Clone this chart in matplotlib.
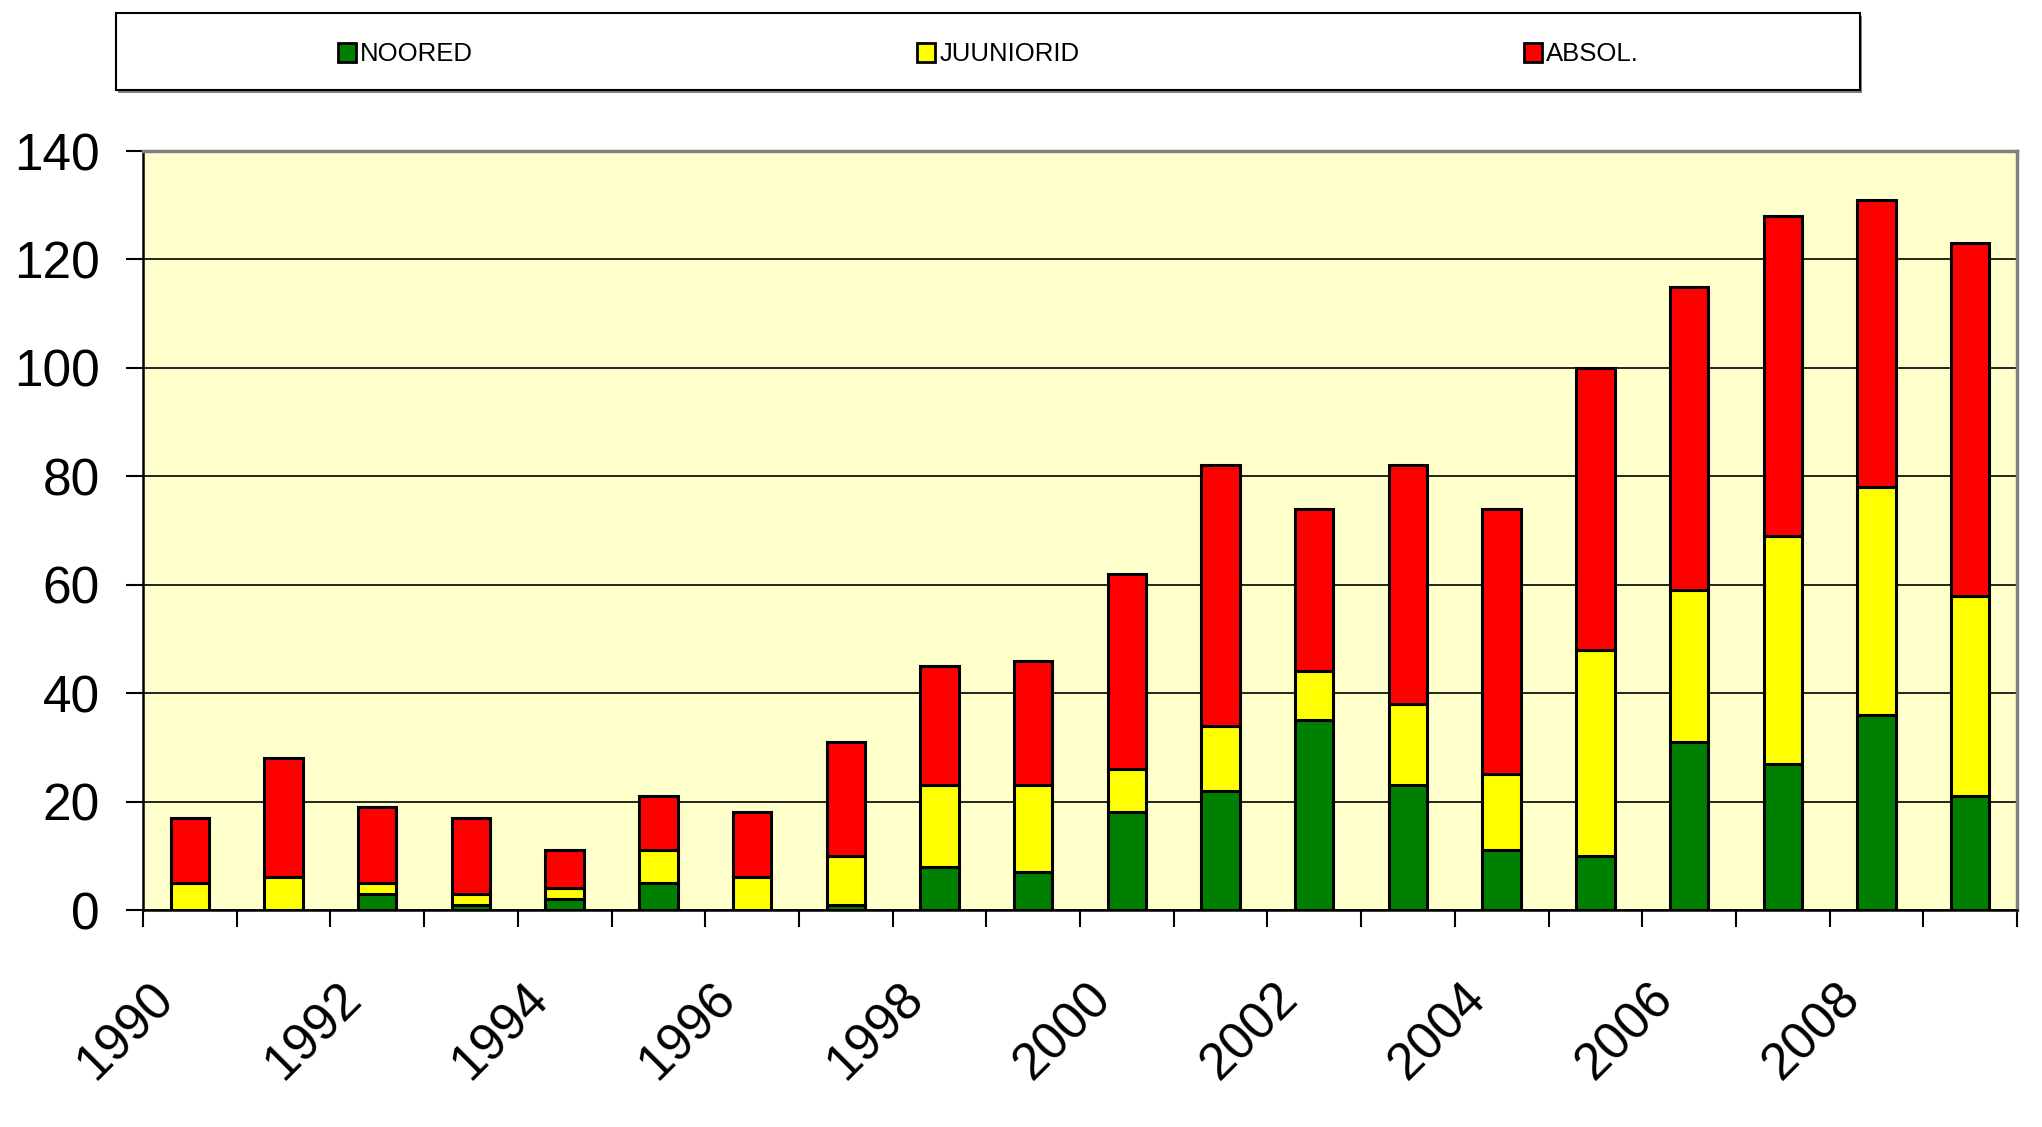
import matplotlib
matplotlib.use("Agg")
import matplotlib.pyplot as plt
import matplotlib.transforms as mtransforms
import numpy as np
from matplotlib.patches import Rectangle, Patch

years = list(range(1990, 2010))
noored = [0, 0, 3, 1, 2, 5, 0, 1, 8, 7, 18, 22, 35, 23, 11, 10, 31, 27, 36, 21]
juuniorid = [5, 6, 2, 2, 2, 6, 6, 9, 15, 16, 8, 12, 9, 15, 14, 38, 28, 42, 42, 37]
absol = [12, 22, 14, 14, 7, 10, 12, 21, 22, 23, 36, 48, 30, 44, 49, 52, 56, 59, 53, 65]
series_names = ["NOORED", "JUUNIORID", "ABSOL."]
colors = ["#008000", "#FFFF00", "#FF0000"]
yticks = [0, 20, 40, 60, 80, 100, 120, 140]

plt.rcParams['font.family'] = ['Liberation Sans', 'DejaVu Sans']

fig = plt.figure(figsize=(20.42, 11.27), dpi=100)
ax = fig.add_axes([143/2042, 1 - 910/1127, (2017-143)/2042, (910-151)/1127])
ax.set_facecolor("#FFFFCC")

x = np.arange(len(years))
bottom = np.zeros(len(years))
for vals, name, col in zip([noored, juuniorid, absol], series_names, colors):
    v = np.array(vals, dtype=float)
    ax.bar(x, v, width=0.41, bottom=bottom, color=col, edgecolor="black",
           linewidth=2.2, label=name, zorder=3)
    bottom += v

ax.set_xlim(-0.5, len(years) - 0.5)
ax.set_ylim(0, 140)
ax.set_yticks(yticks)
ax.yaxis.grid(True, color="black", linewidth=1.2, zorder=1)
ax.set_axisbelow(True)
ax.tick_params(axis='y', labelsize=37, length=12, width=1.5, pad=19, direction='out')

ax.set_xticks(x)
ax.set_xticklabels([str(y) if (y % 2 == 0) else "" for y in years],
                   rotation=45, ha='right', va='top', rotation_mode='anchor')
ax.set_xticks(np.arange(-0.5, len(years)), minor=True)
ax.tick_params(axis='x', which='major', length=0, labelsize=37, pad=46)
ax.tick_params(axis='x', which='minor', length=12, width=1.5, direction='out')
offset = mtransforms.ScaledTranslation(-0.41, 0, fig.dpi_scale_trans)
for lab in ax.get_xticklabels():
    lab.set_transform(lab.get_transform() + offset)

for s in ['left', 'bottom']:
    ax.spines[s].set_color("black")
    ax.spines[s].set_linewidth(1.8)
for s in ['top', 'right']:
    ax.spines[s].set_color("#808080")
    ax.spines[s].set_linewidth(2.5)

# legend box
lx0, lx1, ly0, ly1 = 116/2042, 1860/2042, 1 - 90/1127, 1 - 13/1127
fig.patches.append(Rectangle((lx0 + 0.0008, ly0 - 0.0025), lx1 - lx0, ly1 - ly0,
                             transform=fig.transFigure, facecolor="#808080",
                             edgecolor="none", zorder=0))
fig.patches.append(Rectangle((lx0, ly0), lx1 - lx0, ly1 - ly0,
                             transform=fig.transFigure, facecolor="white",
                             edgecolor="black", linewidth=1.5, zorder=1))
handles = [Patch(facecolor=c, edgecolor="black", linewidth=2) for c in colors]
leg = fig.legend(handles, series_names, loc='center', ncol=3,
                 bbox_to_anchor=((lx0 + lx1) / 2 + 0.0002, (ly0 + ly1) / 2 - 0.0025),
                 frameon=False, fontsize=18.5, handlelength=0.7, handleheight=0.75,
                 handletextpad=0.15, columnspacing=17.3)

fig.savefig("out.png", dpi=100)
